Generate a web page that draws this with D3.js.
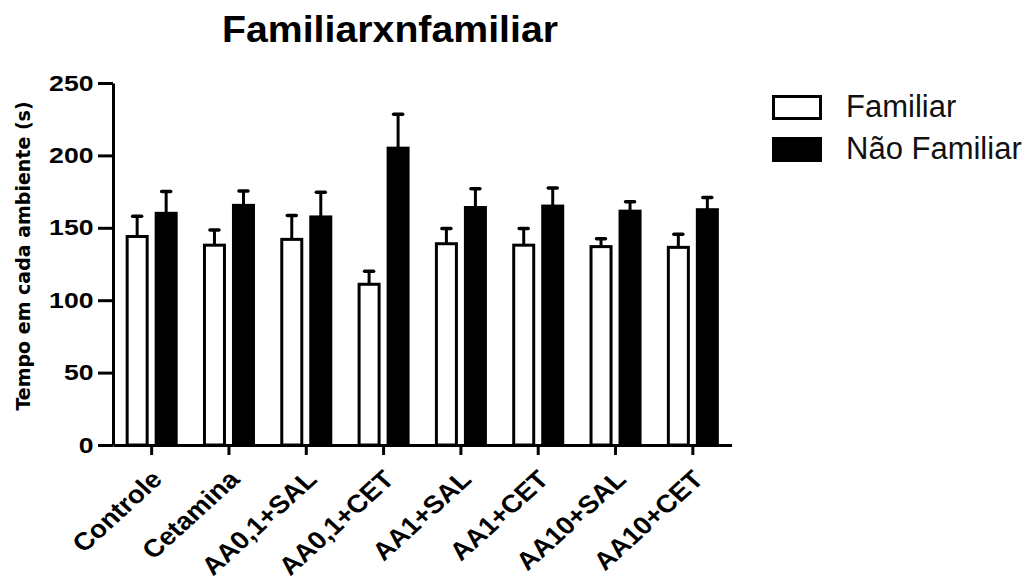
<!DOCTYPE html>
<html>
<head>
<meta charset="utf-8">
<script src="https://cdn.jsdelivr.net/npm/d3@7"></script>
<style>
body { margin: 0; background: #fff; }
</style>
</head>
<body>
<div id="chart"></div>
<script>
// valeurs
const categorias = ["Controle", "Cetamina", "AA0,1+SAL", "AA0,1+CET", "AA1+SAL", "AA1+CET", "AA10+SAL", "AA10+CET"];
const series = ["Familiar", "Não Familiar"];
const familiar = [144, 138, 142, 111, 139, 138, 137, 136.5];
const familiarErro = [14, 10.5, 16.5, 9, 10.5, 11.5, 5.5, 9];
const naoFamiliar = [160, 165.5, 157.5, 205, 164, 165, 161.5, 162.5];
const naoFamiliarErro = [15, 10, 17, 23.5, 13, 12.5, 6.5, 8.5];
const yTicks = [0, 50, 100, 150, 200, 250];
const titulo = "Familiarxnfamiliar";
const yTitulo = "Tempo em cada ambiente (s)";

const width = 1034, height = 585;
const font = "'Liberation Sans', Arial, sans-serif";

const svg = d3.select("#chart").append("svg")
    .attr("width", width)
    .attr("height", height);

const x = d3.scaleBand().domain(categorias).range([113, 731.5]);
const xs = d3.scaleBand().domain(series)
    .range([0, x.bandwidth()])
    .paddingInner(0.207)
    .paddingOuter(0.436);
const y = d3.scaleLinear().domain([0, 250]).range([445, 83]);

const rows = categorias.map((c, i) => ({
    cat: c,
    vals: [
        {s: series[0], v: familiar[i], e: familiarErro[i]},
        {s: series[1], v: naoFamiliar[i], e: naoFamiliarErro[i]}
    ]
}));

// barres d'erreur (derriere les barres)
const groups = svg.selectAll("g.grupo").data(rows).enter().append("g")
    .attr("class", "grupo")
    .attr("transform", d => "translate(" + x(d.cat) + ",0)");

groups.selectAll("line.err").data(d => d.vals).enter().append("line")
    .attr("class", "err")
    .attr("x1", d => xs(d.s) + xs.bandwidth() / 2)
    .attr("x2", d => xs(d.s) + xs.bandwidth() / 2)
    .attr("y1", d => y(d.v))
    .attr("y2", d => y(d.v + d.e))
    .attr("stroke", "#000")
    .attr("stroke-width", 3);

groups.selectAll("line.cap").data(d => d.vals).enter().append("line")
    .attr("class", "cap")
    .attr("x1", d => xs(d.s) + xs.bandwidth() / 2 - 4.5)
    .attr("x2", d => xs(d.s) + xs.bandwidth() / 2 + 4.5)
    .attr("y1", d => y(d.v + d.e))
    .attr("y2", d => y(d.v + d.e))
    .attr("stroke", "#000")
    .attr("stroke-width", 3.5)
    .attr("stroke-linecap", "round");

groups.selectAll("rect").data(d => d.vals).enter().append("rect")
    .attr("x", d => xs(d.s) + 1.5)
    .attr("width", xs.bandwidth() - 3)
    .attr("y", d => y(d.v))
    .attr("height", d => y(0) - y(d.v))
    .attr("fill", d => d.s === series[0] ? "#fff" : "#000")
    .attr("stroke", "#000")
    .attr("stroke-width", 3);

// axes
const yAxis = svg.append("g")
    .attr("transform", "translate(113,0)")
    .call(d3.axisLeft(y).tickValues(yTicks).tickSize(15).tickSizeOuter(0));
yAxis.select(".domain").attr("stroke-width", 3);
yAxis.selectAll(".tick line").attr("stroke-width", 3);
yAxis.selectAll(".tick text")
    .attr("x", 0)
    .attr("font-family", font)
    .attr("font-weight", "bold")
    .attr("font-size", 22)
    .attr("fill", "#000")
    .attr("transform", "translate(-19.5,0) scale(1.21,1)");

const xAxis = svg.append("g")
    .attr("transform", "translate(0,445)")
    .call(d3.axisBottom(x).tickSize(10).tickSizeOuter(0));
xAxis.select(".domain").attr("stroke-width", 3);
xAxis.selectAll(".tick line").attr("stroke-width", 3);
xAxis.selectAll(".tick text")
    .attr("x", 0)
    .attr("y", 0)
    .attr("dy", 0)
    .attr("text-anchor", "end")
    .attr("font-family", font)
    .attr("font-weight", "bold")
    .attr("font-size", 25)
    .attr("fill", "#000")
    .attr("transform", "translate(12,36) scale(1.1,1) rotate(-45)");

// titres
svg.append("text")
    .attr("x", 390)
    .attr("y", 41.7)
    .attr("text-anchor", "middle")
    .attr("font-family", font)
    .attr("font-weight", "bold")
    .attr("font-size", 37)
    .attr("textLength", 336)
    .attr("lengthAdjust", "spacingAndGlyphs")
    .text(titulo);

svg.append("text")
    .attr("transform", "translate(29.5,256) rotate(-90)")
    .attr("text-anchor", "middle")
    .attr("font-family", "'DejaVu Sans', sans-serif")
    .attr("font-weight", "bold")
    .attr("font-size", 19)
    .text(yTitulo);

// legende
const legend = svg.selectAll("g.leg").data(series).enter().append("g")
    .attr("class", "leg")
    .attr("transform", (d, i) => "translate(772," + (95 + i * 42) + ")");
legend.append("rect")
    .attr("x", 1.5)
    .attr("y", 1.5)
    .attr("width", 47)
    .attr("height", 22)
    .attr("fill", (d, i) => i === 0 ? "#fff" : "#000")
    .attr("stroke", "#000")
    .attr("stroke-width", 3);
legend.append("text")
    .attr("x", 74)
    .attr("y", 22)
    .attr("font-family", font)
    .attr("font-size", 31)
    .attr("fill", "#111")
    .text(d => d);
</script>
</body>
</html>
